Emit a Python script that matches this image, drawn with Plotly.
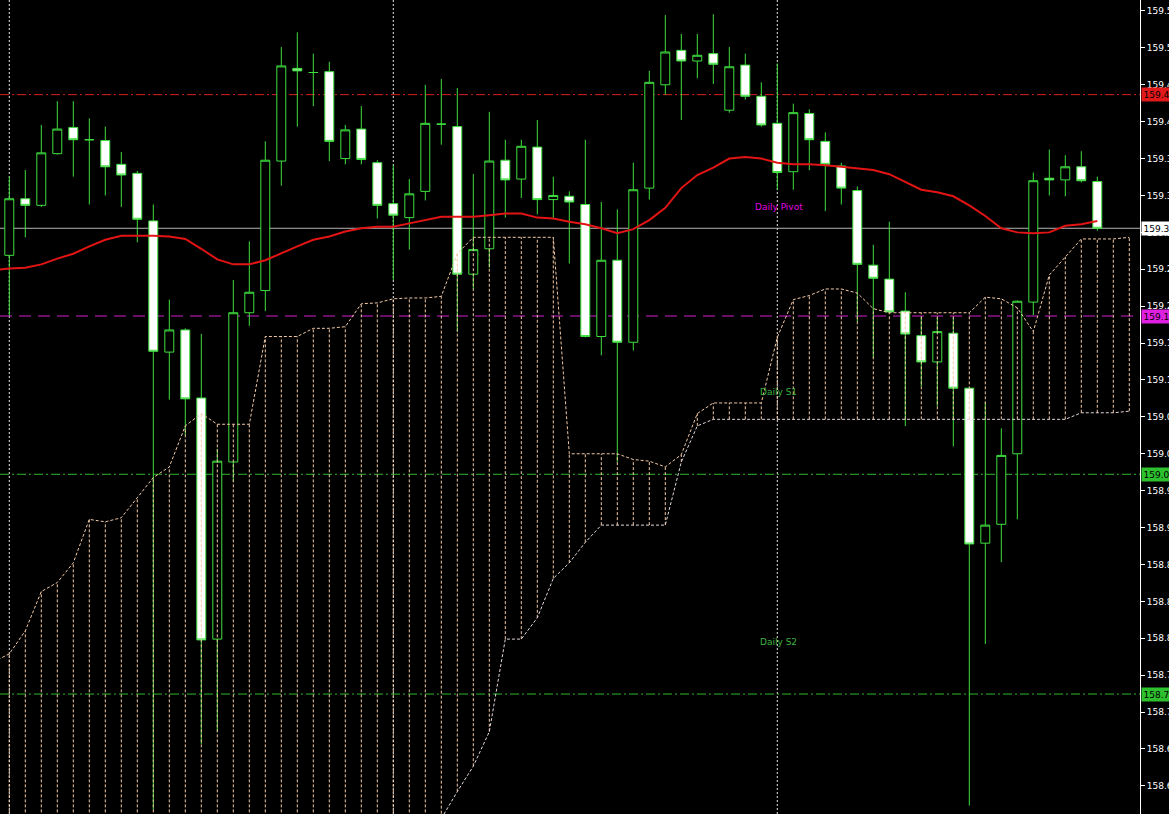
import plotly.graph_objects as go

# ---------------- data (hourly bars) ----------------
bars = list(range(69))
opens = [159.272, 159.341, 159.333, 159.396, 159.428, 159.413, 159.412, 159.383, 159.372, 159.314,
         159.154, 159.181, 159.098, 158.804, 159.020, 159.202, 159.229, 159.387, 159.500, 159.495,
         159.496, 159.390, 159.426, 159.385, 159.335, 159.318, 159.350, 159.432, 159.429, 159.249,
         159.280, 159.388, 159.365, 159.404, 159.340, 159.344, 159.334, 159.173, 159.266, 159.166,
         159.354, 159.480, 159.522, 159.509, 159.518, 159.449, 159.504, 159.466, 159.433, 159.374,
         159.445, 159.411, 159.381, 159.351, 159.260, 159.243, 159.204, 159.174, 159.142, 159.177,
         159.110, 158.921, 158.944, 159.030, 159.215, 159.366, 159.364, 159.380, 159.362]
highs = [159.368, 159.376, 159.431, 159.460, 159.460, 159.439, 159.429, 159.398, 159.375, 159.334,
         159.218, 159.183, 159.176, 159.036, 159.242, 159.289, 159.411, 159.526, 159.544, 159.518,
         159.508, 159.431, 159.454, 159.388, 159.382, 159.365, 159.480, 159.487, 159.476, 159.371,
         159.447, 159.413, 159.413, 159.437, 159.368, 159.350, 159.413, 159.337, 159.328, 159.385,
         159.497, 159.565, 159.542, 159.542, 159.566, 159.526, 159.518, 159.483, 159.506, 159.457,
         159.450, 159.422, 159.385, 159.356, 159.285, 159.313, 159.227, 159.197, 159.196, 159.196,
         159.111, 159.093, 159.061, 159.217, 159.373, 159.401, 159.394, 159.399, 159.368]
lows = [159.198, 159.294, 159.331, 159.395, 159.368, 159.334, 159.345, 159.331, 159.288, 158.596,
        159.096, 159.053, 158.676, 158.691, 158.996, 159.186, 159.204, 159.357, 159.429, 159.454,
        159.387, 159.383, 159.383, 159.317, 159.242, 159.279, 159.339, 159.407, 159.179, 159.231,
        159.257, 159.318, 159.342, 159.322, 159.316, 159.262, 159.172, 159.150, 159.020, 159.156,
        159.340, 159.468, 159.437, 159.488, 159.481, 159.446, 159.462, 159.429, 159.352, 159.352,
        159.376, 159.326, 159.334, 159.191, 159.147, 159.201, 159.064, 159.112, 159.088, 159.039,
        158.601, 158.798, 158.898, 158.950, 159.199, 159.345, 159.344, 159.361, 159.302]
closes = [159.341, 159.333, 159.397, 159.426, 159.413, 159.413, 159.380, 159.370, 159.316, 159.155,
          159.181, 159.097, 158.803, 159.021, 159.202, 159.227, 159.388, 159.503, 159.497, 159.495,
          159.411, 159.425, 159.389, 159.333, 159.321, 159.347, 159.433, 159.432, 159.249, 159.279,
          159.387, 159.364, 159.405, 159.340, 159.345, 159.337, 159.173, 159.266, 159.166, 159.352,
          159.483, 159.520, 159.509, 159.516, 159.505, 159.502, 159.466, 159.431, 159.373, 159.446,
          159.413, 159.383, 159.354, 159.261, 159.244, 159.203, 159.176, 159.142, 159.179, 159.110,
          158.920, 158.943, 159.028, 159.216, 159.363, 159.364, 159.380, 159.363, 159.305]

# moving average (starts one bar left of the first visible candle)
ma_x = list(range(-1, 69))
ma_values = [159.254, 159.256, 159.257, 159.261, 159.268, 159.274, 159.283, 159.291, 159.296, 159.296,
             159.296, 159.295, 159.292, 159.280, 159.267, 159.261, 159.261, 159.266, 159.275, 159.283,
             159.291, 159.295, 159.301, 159.305, 159.307, 159.307, 159.311, 159.315, 159.319, 159.319,
             159.319, 159.321, 159.323, 159.323, 159.318, 159.317, 159.313, 159.310, 159.305, 159.299,
             159.304, 159.315, 159.330, 159.354, 159.370, 159.379, 159.390, 159.392, 159.390, 159.385,
             159.383, 159.383, 159.382, 159.380, 159.378, 159.376, 159.371, 159.361, 159.352, 159.349,
             159.344, 159.333, 159.320, 159.305, 159.300, 159.299, 159.300, 159.308, 159.310, 159.314]

# Ichimoku cloud spans (extend two bars into the future)
cloud_x = list(range(-1, 71))
span_a = [158.776, 158.786, 158.814, 158.862, 158.873, 158.897, 158.950, 158.947, 158.952, 158.976,
          159.001, 159.014, 159.064, 159.079, 159.066, 159.066, 159.066, 159.173, 159.173, 159.173,
          159.183, 159.183, 159.185, 159.213, 159.214, 159.219, 159.220, 159.220, 159.222, 159.274,
          159.294, 159.294, 159.294, 159.294, 159.294, 159.294, 159.030, 159.030, 159.030, 159.030,
          159.023, 159.021, 159.014, 159.029, 159.079, 159.092, 159.092, 159.092, 159.092, 159.172,
          159.218, 159.223, 159.231, 159.231, 159.226, 159.207, 159.202, 159.202, 159.202, 159.202,
          159.202, 159.202, 159.221, 159.219, 159.208, 159.179, 159.248, 159.270, 159.292, 159.292,
          159.292, 159.294]
span_b = [158.550] * 28 + [
          158.585, 158.618, 158.649, 158.691, 158.804, 158.804, 158.830, 158.878, 158.897, 158.922,
          158.943, 158.943, 158.943, 158.943, 158.943, 159.020, 159.064] + [159.072] * 23 + [
          159.080, 159.080, 159.080, 159.082]

# daily pivot levels
level_r1 = 159.468
level_pivot = 159.198
level_s1 = 159.005
level_s2 = 158.737
bid_price = closes[-1]

day_starts = [0, 24, 48]

tick_vals = [159.570, 159.525, 159.480, 159.435, 159.390, 159.345, 159.300, 159.255, 159.210, 159.165,
             159.120, 159.075, 159.030, 158.985, 158.940, 158.895, 158.850, 158.805, 158.760, 158.715,
             158.670, 158.625]
tick_text = [f"{v:.3f}" for v in tick_vals]

pivot_labels = [("Daily Pivot", 46.48, 159.331, "#E000E0"),
                ("Daily S1", 46.79, 159.105, "#3CB43C"),
                ("Daily S2", 46.79, 158.801, "#3CB43C")]

# ---------------- styling ----------------
GREEN = "#3FE03F"
HATCH = "#F2C9A6"
SPAN_B_COL = "#E4D6DE"
FONT = "DejaVu Sans"
FSIZE = 9

fig = go.Figure()

# hatched cloud: one dotted vertical stroke per bar between the spans
hx, hy = [], []
for x, a, b in zip(cloud_x, span_a, span_b):
    hx += [x, x, None]
    hy += [min(a, b), max(a, b), None]
fig.add_trace(go.Scatter(x=hx, y=hy, mode="lines", hoverinfo="skip",
                         line=dict(color=HATCH, width=1, dash="3px,2px")))
fig.add_trace(go.Scatter(x=cloud_x, y=span_b, mode="lines", hoverinfo="skip",
                         line=dict(color=SPAN_B_COL, width=1, dash="3px,2px")))
fig.add_trace(go.Scatter(x=cloud_x, y=span_a, mode="lines", hoverinfo="skip",
                         line=dict(color=HATCH, width=1, dash="3px,2px")))

# moving average
fig.add_trace(go.Scatter(x=ma_x, y=ma_values, mode="lines", hoverinfo="skip",
                         line=dict(color="#E31414", width=2)))

# candles
fig.add_trace(go.Candlestick(
    x=bars, open=opens, high=highs, low=lows, close=closes,
    increasing=dict(line=dict(color=GREEN, width=1), fillcolor="#000000"),
    decreasing=dict(line=dict(color=GREEN, width=1), fillcolor="#FFFFFF"),
    whiskerwidth=0, hoverinfo="skip"))

shapes = []
for d in day_starts:
    shapes.append(dict(type="line", xref="x", yref="paper", x0=d, x1=d, y0=0, y1=1,
                       layer="below", line=dict(color="#E8E8E8", width=1, dash="2px,2px")))
for lvl, col, dash in [(level_r1, "#D81E1E", "9px,3px,2px,3px"),
                       (level_pivot, "#D020D0", "12px,7px"),
                       (level_s1, "#2EB82E", "9px,3px,2px,3px"),
                       (level_s2, "#2EB82E", "9px,3px,2px,3px")]:
    shapes.append(dict(type="line", xref="paper", yref="y", x0=0, x1=1, y0=lvl, y1=lvl,
                       layer="below", line=dict(color=col, width=1, dash=dash)))
shapes.append(dict(type="line", xref="paper", yref="y", x0=0, x1=1, y0=bid_price, y1=bid_price,
                   layer="below", line=dict(color="#B4B4B4", width=1)))

annotations = []
for txt, x, y, col in pivot_labels:
    annotations.append(dict(x=x, y=y, xref="x", yref="y", text=txt, showarrow=False,
                            xanchor="left", yanchor="middle",
                            font=dict(family=FONT, size=FSIZE, color=col)))
for lvl, bg in [(level_r1, "#E01A1A"), (level_pivot, "#E020E0"), (level_s1, "#2EC02E"),
                (level_s2, "#2EC02E"), (bid_price, "#FFFFFF")]:
    annotations.append(dict(x=1, y=lvl, xref="paper", yref="y", text=f"{lvl:.3f}",
                            showarrow=False, xanchor="left", yanchor="middle", xshift=1,
                            bgcolor=bg, borderpad=1.5,
                            font=dict(family=FONT, size=FSIZE, color="#000000")))

fig.update_layout(
    width=1169, height=814, autosize=False,
    margin=dict(l=0, r=29, t=0, b=0, autoexpand=False),
    boxgap=0.2, boxgroupgap=0.3,
    paper_bgcolor="#000000", plot_bgcolor="#000000",
    showlegend=False, shapes=shapes, annotations=annotations,
    xaxis=dict(range=[-0.581, 70.669], visible=False, rangeslider=dict(visible=False),
               showgrid=False, zeroline=False, automargin=False),
    yaxis=dict(range=[158.5907, 159.5834], side="right", tickvals=tick_vals, ticktext=tick_text,
               ticks="outside", ticklen=4, tickcolor="#FFFFFF", tickwidth=1,
               showline=True, linecolor="#FFFFFF", linewidth=1,
               showgrid=False, zeroline=False, automargin=False,
               tickfont=dict(family=FONT, size=FSIZE, color="#FFFFFF")),
)

page_fix = ("document.documentElement.style.margin='0';document.body.style.margin='0';"
            "document.body.style.padding='0';document.body.style.overflow='hidden';"
            "document.documentElement.style.overflow='hidden';"
            "Plotly.relayout('{plot_id}', {width: 1169, height: 814});")

fig.write_html("out.html", config={"responsive": False, "displayModeBar": False},
               post_script=page_fix)
